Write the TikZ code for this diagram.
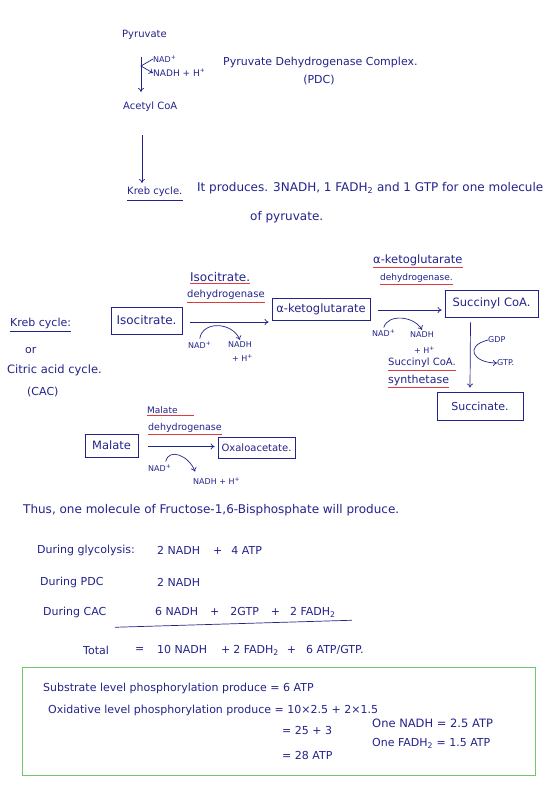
\documentclass[tikz,border=0pt]{standalone}
\usepackage{fontspec}
\setmainfont{DejaVu Sans}
\usetikzlibrary{arrows.meta}
\definecolor{ink}{RGB}{35,35,140}
\definecolor{redline}{RGB}{220,60,60}
\definecolor{boxgreen}{RGB}{110,200,110}
\begin{document}
\begin{tikzpicture}[x=1pt,y=-1pt,
  txt/.style={anchor=west,inner sep=0pt,text=ink,font=\fontsize{11}{13}\selectfont},
  fnine/.style={font=\fontsize{9}{11}\selectfont},
  ften/.style={font=\fontsize{10}{12}\selectfont},
  feleven/.style={font=\fontsize{11}{13}\selectfont},
  ftwelve/.style={font=\fontsize{12}{14}\selectfont},
  sm/.style={txt,font=\fontsize{8}{9}\selectfont},
  rbox/.style={draw=ink,line width=0.8pt,text=ink,inner sep=0pt,font=\fontsize{11.5}{13}\selectfont},
  arr/.style={draw=ink,line width=0.7pt,-{To[length=4pt,width=6pt]}},
  uline/.style={draw=redline,line width=1pt},
  bline/.style={draw=ink,line width=0.7pt}]
\fill[white] (0,0) rectangle (560,796);
\useasboundingbox (0,0) rectangle (560,796);

% Pyruvate -> Acetyl CoA
\node[txt,ften] (pyr) at (122,35) {Pyruvate};
\node[sm] (nad0) at (153,59) {NAD\textsuperscript{+}};
\node[sm,fnine] (nadh0) at (153,73) {NADH + H\textsuperscript{+}};
\node[txt,ften] (acoa) at (123,107) {Acetyl CoA};
\node[txt] (pdc) at (223,62) {Pyruvate Dehydrogenase Complex.};
\node[txt,anchor=center] (pdcab) at (319,80) {(PDC)};
\draw[arr] ([xshift=19pt,yshift=-17pt]pyr.south west) -- ([xshift=18pt,yshift=10pt]acoa.north west);
\draw[arr] (nad0.west) -- ([xshift=-12pt,yshift=-7pt]nad0.west) -- (nadh0.west);

% Kreb cycle line
\node[txt,ften] (kc) at (127,192) {Kreb cycle.};
\draw[bline] ([yshift=-3pt]kc.south west) -- ([yshift=-3pt]kc.south east);
\node[txt,ftwelve] (prod) at (197,188) {It produces. 3NADH, 1 FADH\textsubscript{2} and 1 GTP for one molecule};
\node[txt,ftwelve] (prod2) at (250,217) {of pyruvate.};
\draw[arr] ([xshift=19pt,yshift=-23pt]acoa.south west) -- ([xshift=15pt,yshift=4pt]kc.north west);

% left labels
\node[txt] (kc2) at (10,323) {Kreb cycle:};
\draw[bline] ([yshift=-3pt]kc2.south west) -- ([yshift=-3pt]kc2.south east);
\node[txt] (or) at (25,350) {or};
\node[txt,font=\fontsize{11.5}{13}\selectfont] (cac) at (7,370) {Citric acid cycle.};
\node[txt] (cacab) at (27,392) {(CAC)};

% Isocitrate reaction
\node[rbox,ftwelve,minimum width=71pt,minimum height=27pt] (iso) at (146.5,320.5) {Isocitrate.};
\node[txt,ftwelve] (e1a) at (190,277) {Isocitrate.};
\node[txt,ften] (e1b) at (187,295) {dehydrogenase};
\draw[uline] ([yshift=-2pt]e1a.south west) -- ([yshift=-2pt]e1a.south east);
\draw[uline] ([yshift=-2pt]e1b.south west) -- ([yshift=-2pt]e1b.south east);
\node[rbox,minimum width=98pt,minimum height=22pt] (akg) at (321,309) {α-ketoglutarate};
\draw[arr] ([xshift=8pt,yshift=-1.5pt]iso.east) -- ([xshift=-3pt,yshift=-1.5pt]iso.east -| akg.west);
\node[sm] (nad1) at (188,345) {NAD\textsuperscript{+}};
\node[sm] (nadh1) at (228,345) {NADH};
\node[sm] (h1) at (232,358) {+ H\textsuperscript{+}};
\draw[arr] ([yshift=3pt]nad1.north) .. controls +(3,-18) and +(-8,-18) .. ([yshift=2pt]nadh1.north);

% alpha-KG reaction
\node[txt,font=\fontsize{11.5}{13}\selectfont] (e2a) at (373,260) {α-ketoglutarate};
\node[txt,fnine] (e2b) at (380,278) {dehydrogenase.};
\draw[uline] ([yshift=-2pt]e2a.south west) -- ([yshift=-2pt]e2a.south east);
\draw[uline] ([yshift=-2pt]e2b.south west) -- ([yshift=-2pt]e2b.south east);
\node[rbox,minimum width=93pt,minimum height=27pt] (sca) at (491.5,303.5) {Succinyl CoA.};
\draw[arr] ([xshift=8pt,yshift=-1pt]akg.east) -- ([xshift=-3pt,yshift=-1pt]akg.east -| sca.west);
\node[sm] (nad2) at (372,333) {NAD\textsuperscript{+}};
\node[sm] (nadh2) at (410,335) {NADH};
\node[sm] (h2) at (414,350) {+ H\textsuperscript{+}};
\draw[arr] ([yshift=2pt]nad2.north) .. controls +(4,-14) and +(-8,-14) .. ([yshift=2pt]nadh2.north);

% Succinyl CoA -> Succinate
\node[txt,ften] (e3a) at (388,363) {Succinyl CoA.};
\node[txt] (e3b) at (388,380) {synthetase};
\draw[uline] ([yshift=-2pt]e3a.south west) -- ([yshift=-2pt]e3a.south east);
\draw[uline] ([yshift=-2pt]e3b.south west) -- ([yshift=-2pt]e3b.south east);
\node[rbox,feleven,minimum width=86pt,minimum height=28pt] (succ) at (480,406) {Succinate.};
\draw[arr] ([xshift=-21pt,yshift=-5pt]sca.south) -- ([xshift=-10pt,yshift=4pt]succ.north);
\node[sm] (gdp) at (488,340) {GDP};
\node[sm] (gtp) at (497,363) {GTP.};
\draw[arr] (gdp.west) .. controls +(-24,6) and +(-24,0) .. (gtp.west);

% Malate reaction
\node[rbox,minimum width=53pt,minimum height=23pt] (mal) at (111.5,445.5) {Malate};
\node[rbox,ften,minimum width=77pt,minimum height=21pt] (oxa) at (256.5,447.5) {Oxaloacetate.};
\draw[arr] ([xshift=10pt,yshift=-1pt]mal.east) -- ([xshift=-3pt,yshift=-1pt]mal.east -| oxa.west);
\node[txt,fnine] (e4a) at (147,410) {Malate};
\node[txt,font=\fontsize{9.5}{11}\selectfont] (e4b) at (148,428) {dehydrogenase};
\draw[uline] ([yshift=-2pt]e4a.south west) -- ([xshift=16pt,yshift=-2pt]e4a.south east);
\draw[uline] ([yshift=-2pt]e4b.south west) -- ([yshift=-2pt]e4b.south east);
\node[sm] (nad3) at (148,468) {NAD\textsuperscript{+}};
\node[sm] (nadh3) at (193,481) {NADH + H\textsuperscript{+}};
\draw[arr] ([xshift=6pt,yshift=3pt]nad3.north) .. controls +(3,-14) and +(-6,-16) .. ([xshift=2pt,yshift=6pt]nadh3.north west);

% Summary
\node[txt,ftwelve] (thus) at (23,510) {Thus, one molecule of Fructose-1,6-Bisphosphate will produce.};
\node[txt] (dg) at (37,550) {During glycolysis:};
\node[txt] (dg1) at (157,550) {2 NADH};
\node[txt] (dg2) at (213,550) {+\hspace{9pt}4 ATP};
\node[txt] (dp) at (40,582) {During PDC};
\node[txt] (dp1) at (157,582) {2 NADH};
\node[txt] (dc) at (43,612) {During CAC};
\node[txt] (dc1) at (155,612) {6 NADH\hspace{12pt}+\hspace{11pt}2GTP\hspace{12pt}+\hspace{10pt}2 FADH\textsubscript{2}};
\draw[bline] ([xshift=-40pt,yshift=-10pt]dc1.south west) -- ([xshift=16pt,yshift=-3pt]dc1.south east);
\node[txt] (tot) at (83,650) {Total};
\node[txt] (eq) at (135,650) {=};
\node[txt] (tot1) at (157,650) {10 NADH\hspace{14pt}+\hspace{3pt}2 FADH\textsubscript{2}\hspace{8pt}+\hspace{10pt}6 ATP/GTP.};

% Green box
\node[draw=boxgreen,line width=1pt,minimum width=513pt,minimum height=108pt,inner sep=0pt] (gbox) at (278.5,721) {};
\node[txt] (s1) at (43,688) {Substrate level phosphorylation produce = 6 ATP};
\node[txt] (s2) at (48,710) {Oxidative level phosphorylation produce = 10×2.5 + 2×1.5};
\node[txt] (s3) at (282,730) {= 25 + 3};
\node[txt] (s4) at (282,755) {= 28 ATP};
\node[txt,font=\fontsize{11.5}{13}\selectfont] (s5) at (372,723) {One NADH = 2.5 ATP};
\node[txt] (s6) at (372,743) {One FADH\textsubscript{2} = 1.5 ATP};
\end{tikzpicture}
\end{document}
